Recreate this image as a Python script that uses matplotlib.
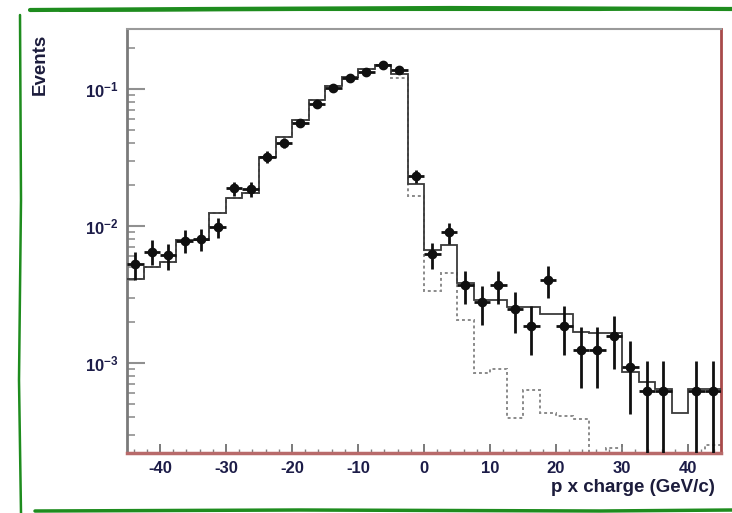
import numpy as np
import matplotlib
matplotlib.use("Agg")
import matplotlib.pyplot as plt
from matplotlib.lines import Line2D
from matplotlib.ticker import MultipleLocator, LogLocator, NullFormatter

plt.rcParams['font.family'] = ['Liberation Sans', 'DejaVu Sans']
plt.rcParams['mathtext.default'] = 'regular'
plt.rcParams['axes.unicode_minus'] = False

# --- binning: 36 bins of 2.5 GeV/c from -45 to 45 ---
bin_edges = np.linspace(-45, 45, 37)
bin_centers = 0.5 * (bin_edges[:-1] + bin_edges[1:])

# --- data (normalised events per bin) ---
data = [5.25e-3, 6.5e-3, 6.1e-3, 7.8e-3, 8.0e-3, 9.8e-3, 1.88e-2, 1.85e-2, 3.2e-2,
        4.05e-2, 5.67e-2, 7.73e-2, 0.101, 0.120, 0.134, 0.150, 0.138, 2.32e-2,
        6.2e-3, 9.0e-3, 3.7e-3, 2.77e-3, 3.7e-3, 2.47e-3, 1.87e-3, 4.04e-3, 1.87e-3,
        1.245e-3, 1.245e-3, 1.56e-3, 9.3e-4, 6.2e-4, 6.2e-4, 0.0, 6.2e-4, 6.2e-4]
data_err = [1.21e-3, 1.34e-3, 1.30e-3, 1.47e-3, 1.49e-3, 1.65e-3, 2.28e-3, 2.26e-3, 2.98e-3,
            3.35e-3, 3.96e-3, 4.63e-3, 5.29e-3, 5.76e-3, 6.09e-3, 6.44e-3, 6.18e-3, 2.53e-3,
            1.31e-3, 1.58e-3, 1.01e-3, 8.75e-4, 1.01e-3, 8.27e-4, 7.19e-4, 1.06e-3, 7.19e-4,
            5.87e-4, 5.87e-4, 6.57e-4, 5.07e-4, 4.14e-4, 4.14e-4, 0.0, 4.14e-4, 4.14e-4]

# --- simulation: total (solid) and single component (dashed) ---
mc_total = [4.1e-3, 5.0e-3, 5.5e-3, 7.9e-3, 7.9e-3, 1.25e-2, 1.6e-2, 1.75e-2, 3.2e-2,
            4.45e-2, 5.9e-2, 8.3e-2, 0.105, 0.123, 0.139, 0.150, 0.128, 2.03e-2,
            6.7e-3, 7.3e-3, 3.85e-3, 2.88e-3, 2.88e-3, 2.58e-3, 2.58e-3, 2.26e-3, 2.26e-3,
            1.69e-3, 1.65e-3, 1.65e-3, 8.65e-4, 7.3e-4, 6.5e-4, 4.3e-4, 6.4e-4, 6.4e-4]
mc_part = [4.1e-3, 5.0e-3, 5.5e-3, 7.9e-3, 7.9e-3, 1.25e-2, 1.6e-2, 1.75e-2, 3.2e-2,
           4.45e-2, 5.9e-2, 8.3e-2, 0.105, 0.123, 0.139, 0.150, 0.120, 1.66e-2,
           3.35e-3, 4.5e-3, 2.06e-3, 8.4e-4, 9.0e-4, 3.95e-4, 6.35e-4, 4.3e-4, 4.1e-4,
           3.9e-4, 1e-4, 2.4e-4, 1e-4, 1e-4, 1e-4, 1e-4, 1e-4, 2.5e-4]

W, H = 732, 513
fig = plt.figure(figsize=(W / 100, H / 100), dpi=100)
ax = fig.add_axes([127 / W, 1 - 453 / H, (721 - 127) / W, (453 - 29) / H])

ax.stairs(mc_part, bin_edges, baseline=None, color='#8a8a8a', lw=1.4,
          linestyle=(0, (1.5, 1.5)), zorder=2)
ax.stairs(mc_total, bin_edges, baseline=None, color='#3a3a3a', lw=1.3, zorder=3)

d = np.array(data)
e = np.array(data_err)
m = d > 0
ax.errorbar(bin_centers[m], d[m], yerr=e[m], xerr=1.25, fmt='o', color='#101010',
            ms=6, elinewidth=2, capsize=0, zorder=4)

ax.set_yscale('log')
ax.set_xlim(-45, 45)
ax.set_ylim(2.2e-4, 0.274)

ax.xaxis.set_major_locator(MultipleLocator(10))
ax.xaxis.set_minor_locator(MultipleLocator(2))
ax.yaxis.set_major_locator(LogLocator(base=10))
ax.yaxis.set_minor_locator(LogLocator(base=10, subs=np.arange(2, 10)))
ax.yaxis.set_minor_formatter(NullFormatter())

ax.tick_params(axis='y', which='major', direction='in', length=13, width=1.5,
               color='#909090', labelsize=12, labelcolor='#1c1c48', pad=6, right=False)
ax.tick_params(axis='y', which='minor', direction='in', length=6, width=1.2,
               color='#909090', right=False)
ax.tick_params(axis='x', which='major', direction='in', length=6.5, width=1.3,
               color='#707070', labelsize=12, labelcolor='#1c1c48', pad=6, top=False)
ax.tick_params(axis='x', which='minor', direction='in', length=3, width=1.0,
               color='#808080', top=False)
for lab in ax.get_xticklabels() + ax.get_yticklabels():
    lab.set_fontweight('bold')

ax.spines['left'].set_color('#7a7a7a')
ax.spines['left'].set_linewidth(2)
ax.spines['top'].set_color('#9a9a9a')
ax.spines['top'].set_linewidth(1.5)
ax.spines['right'].set_color('#a84a4a')
ax.spines['right'].set_linewidth(2)
ax.spines['bottom'].set_color('#b86a6a')
ax.spines['bottom'].set_linewidth(2.5)

fig.text(40 / W, 1 - 34 / H, 'Events', rotation=90, ha='center', va='top',
         fontsize=13.5, fontweight='bold', color='#1c1c3c')
fig.text(715 / W, 1 - 488 / H, 'p x charge (GeV/c)', ha='right', va='center',
         fontsize=13.5, fontweight='bold', color='#1c1c3c')

# hand-drawn green frame around the figure
green = '#1e8c1e'
def px(x, y):
    return x / W, 1 - y / H
frame = [
    ([30, 200, 450, 732], [10, 9, 8, 9], 3.0),
    ([60, 300, 600, 732], [11, 10, 10, 8], 1.5),
    ([20, 21, 19, 21], [15, 200, 380, 513], 1.8),
    ([35, 300, 600, 732], [511, 510, 511, 510], 2.5),
]
for xs, ys, lw in frame:
    fx, fy = zip(*[px(x, y) for x, y in zip(xs, ys)])
    fig.add_artist(Line2D(fx, fy, color=green, lw=lw, solid_capstyle='round'))

fig.savefig('out.png', dpi=100, facecolor='white')
